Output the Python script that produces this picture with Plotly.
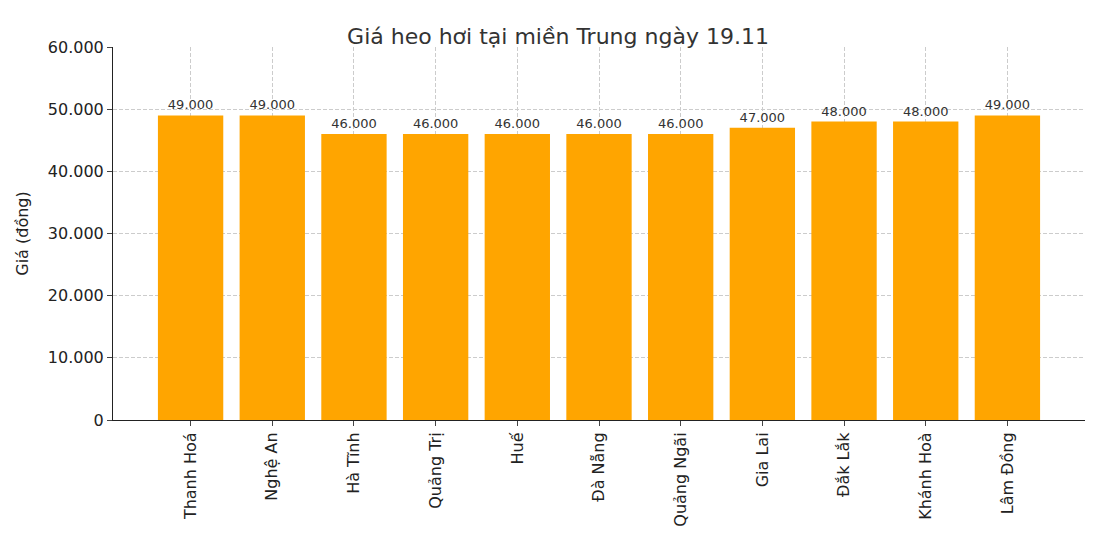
import plotly.graph_objects as go

provinces = ["Thanh Hoá", "Nghệ An", "Hà Tĩnh", "Quảng Trị", "Huế", "Đà Nẵng",
             "Quảng Ngãi", "Gia Lai", "Đắk Lắk", "Khánh Hoà", "Lâm Đồng"]
prices = [49000, 49000, 46000, 46000, 46000, 46000, 46000, 47000, 48000, 48000, 49000]
labels = [f"{p:,}".replace(",", ".") for p in prices]

fig = go.Figure(go.Bar(
    x=provinces, y=prices, marker_color="#FFA500", marker_line_width=0, width=0.8,
    text=labels, textposition="outside", textfont=dict(size=13, color="#333"),
    cliponaxis=False,
))
fig.update_layout(
    width=1100, height=550, plot_bgcolor="white", paper_bgcolor="white",
    font=dict(family="DejaVu Sans", size=16, color="#222"),
    separators=",.",
    margin=dict(l=105, r=23, t=39, b=138, autoexpand=False),
    title=dict(text="Giá heo hơi tại miền Trung ngày 19.11", x=0.5, y=0.948,
               xanchor="center", yanchor="middle", font=dict(size=22, color="#333")),
    showlegend=False, bargap=0.2,
)
fig.update_xaxes(tickangle=-90, showline=True, linecolor="#222", ticks="outside",
                 showgrid=True, gridcolor="#ccc", griddash="4px,2px", gridwidth=0.8,
                 range=[-0.95, 10.95], automargin=False)
fig.update_yaxes(range=[0, 60000], dtick=10000, tickformat=",d", showline=True,
                 linecolor="#222", ticks="outside", showgrid=True, gridcolor="#ccc",
                 griddash="4px,2px", gridwidth=0.8, zeroline=False, automargin=False,
                 title=dict(text="Giá (đồng)", font=dict(size=16)))
fig.write_html("out.html")
